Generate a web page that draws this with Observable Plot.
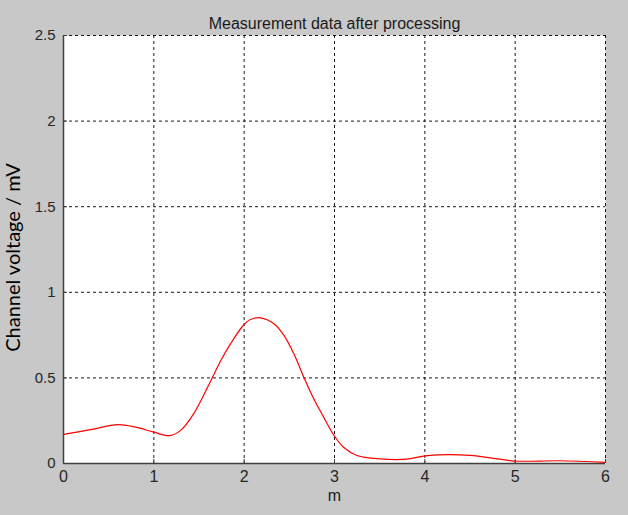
<!DOCTYPE html>
<html>
<head>
<meta charset="utf-8">
<script src="https://cdn.jsdelivr.net/npm/d3@7"></script>
<script src="https://cdn.jsdelivr.net/npm/@observablehq/plot@0.6"></script>
<style>
  html, body { margin: 0; padding: 0; background: #c8c8c8; }
  #chart svg { display: block; }
</style>
</head>
<body>
<div id="chart"></div>
<script>
const titleText = "Measurement data after processing";
const xLabel = "m";
const yLabel = "Channel voltage / mV";
const xTicks = [0, 1, 2, 3, 4, 5, 6];
const xTickLabels = ["0", "1", "2", "3", "4", "5", "6"];
const yTicks = [0, 0.5, 1, 1.5, 2, 2.5];
const yTickLabels = ["0", "0.5", "1", "1.5", "2", "2.5"];

const xs = [0, 0.3, 0.6, 0.8, 1.0, 1.18, 1.3, 1.44, 1.65, 1.74, 1.85, 1.99, 2.07, 2.18, 2.33, 2.44, 2.55, 2.66, 2.77, 2.88, 3.0, 3.1, 3.25, 3.5, 3.8, 4.0, 4.5, 4.8, 5.0, 5.5, 6.0];
const ys = [0.17, 0.198, 0.227, 0.212, 0.183, 0.163, 0.195, 0.29, 0.504, 0.6, 0.70, 0.806, 0.841, 0.851, 0.816, 0.748, 0.641, 0.504, 0.378, 0.271, 0.16, 0.095, 0.047, 0.027, 0.025, 0.045, 0.048, 0.027, 0.014, 0.016, 0.006];

const data = xs.map((x, i) => ({x, y: ys[i]}));

const chart = Plot.plot({
  width: 628,
  height: 515,
  marginLeft: 63,
  marginRight: 23,
  marginTop: 35,
  marginBottom: 52,
  style: {background: "#c8c8c8", fontFamily: "Liberation Sans, Arial, sans-serif", fontSize: "13px", color: "#262626"},
  x: {domain: [0, 6], ticks: xTicks},
  y: {domain: [0, 2.5], ticks: yTicks},
  marks: [
    Plot.frame({fill: "white", stroke: null}),
    Plot.gridX(xTicks.slice(1), {stroke: "#000", strokeOpacity: 0.9, strokeDasharray: "3,3", strokeWidth: 1}),
    Plot.gridY(yTicks.slice(1), {stroke: "#000", strokeOpacity: 0.9, strokeDasharray: "3,3", strokeWidth: 1}),
    Plot.axisX(xTicks, {tickSize: -4, tickPadding: 11, label: null, stroke: "#404040", fill: "#262626", fontSize: 16,
      tickFormat: (d) => xTickLabels[xTicks.indexOf(d)]}),
    Plot.axisY(yTicks, {tickSize: -4, tickPadding: 12, label: null, stroke: "#404040", fill: "#262626", fontSize: 15,
      tickFormat: (d) => yTickLabels[yTicks.indexOf(d)]}),
    Plot.ruleX([0], {stroke: "#404040", strokeWidth: 1.5}),
    Plot.ruleY([0], {stroke: "#404040", strokeWidth: 1.5}),
    Plot.line(data, {x: "x", y: "y", stroke: "#ff0000", strokeWidth: 1.2, curve: "catmull-rom"}),
    Plot.text([titleText], {frameAnchor: "top", dy: -18, fontSize: 16, fill: "#1a1a1a"}),
    Plot.text([xLabel], {frameAnchor: "bottom", dy: 37, fontSize: 16, fill: "#1a1a1a"}),
    Plot.text([yLabel], {frameAnchor: "left", textAnchor: "middle", dx: -50, dy: 8, rotate: -90, fontSize: 20, fontFamily: "Lato, 'Open Sans', sans-serif", fill: "#000"})
  ]
});
document.getElementById("chart").appendChild(chart);
</script>
</body>
</html>
